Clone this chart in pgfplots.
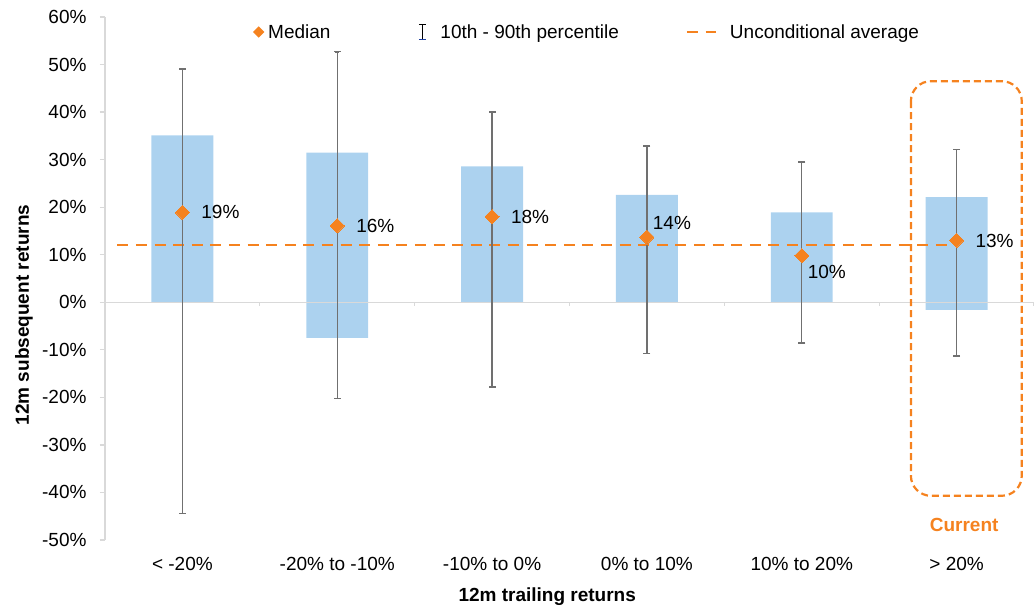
\documentclass[border=0pt]{standalone}
\usepackage{pgfplots}
\pgfplotsset{compat=1.18}
\usepackage{pgfplotstable}
\usepackage{fontspec}
\setmainfont{Liberation Sans}

\definecolor{barblue}{HTML}{ACD2EF}
\definecolor{orangec}{HTML}{F5821F}
\definecolor{whiskergray}{HTML}{707070}
\definecolor{axisgray}{HTML}{D9D9D9}
\definecolor{capblue}{HTML}{1F3F9F}
\newcommand\chartfont{\fontsize{19bp}{23bp}\selectfont}

% boxes: base (below zero) and top of each bucket
\pgfplotstableread{
x base top
0 0 35.1
1 -7.5 31.5
2 0 28.6
3 0 22.6
4 0 18.9
5 -1.6 22.1
}\bars

% median, 10th and 90th percentile of subsequent returns
\pgfplotstableread{
x med p10 p90
0 18.9 -44.4 49.1
1 16.1 -20.2 52.7
2 18.0 -17.8 40.0
3 13.7 -10.8 32.9
4 9.8 -8.6 29.5
5 13.0 -11.3 32.1
}\stats

\pgfplotsset{
  medianmark/.style={orangec, only marks, mark=square*, mark size=5bp,
    mark options={rotate=45, fill=orangec, draw=orangec, line width=0pt},
    point meta=explicit,
    nodes near coords={\pgfmathprintnumber[fixed,precision=0]{\pgfplotspointmeta}\%},
    nodes near coords style={font=\chartfont, text=black, anchor=west, inner sep=0pt}},
  capmark/.style={whiskergray, only marks, mark=-, mark size=3.5bp,
    mark options={line width=1.4bp}, forget plot},
}

\begin{document}
\begin{tikzpicture}
\useasboundingbox (-105bp,-66bp) rectangle (929bp,540bp);
\begin{axis}[
  at={(0,0)}, anchor=south west,
  scale only axis, width=929bp, height=523bp,
  xmin=-0.5, xmax=5.5, ymin=-50, ymax=60,
  /pgf/number format/assume math mode=true,
  axis lines*=left,
  x axis line style={draw=none},
  y axis line style={draw=axisgray, line width=1.2bp},
  xtick=data,
  xticklabels={{< -20\%},{-20\% to -10\%},{-10\% to 0\%},{0\% to 10\%},{10\% to 20\%},{> 20\%}},
  x tick style={draw=none},
  ytick={-50,-40,-30,-20,-10,0,10,20,30,40,50,60},
  yticklabels={-50\%,-40\%,-30\%,-20\%,-10\%,0\%,10\%,20\%,30\%,40\%,50\%,60\%},
  y tick style={draw=axisgray, line width=1.2bp},
  tick align=outside,
  major tick length=5bp,
  tick label style={font=\chartfont, text=black},
  xticklabel style={anchor=center, yshift=-19bp},
  yticklabel style={xshift=-10bp},
  xlabel={12m trailing returns},
  ylabel={12m subsequent returns},
  every axis x label/.style={at={(axis description cs:0.476,-0.109)}, anchor=center, font=\bfseries\chartfont},
  every axis y label/.style={at={(axis description cs:-0.0872,0.43)}, anchor=center, rotate=90, font=\bfseries\chartfont},
  legend columns=3,
  reverse legend,
  legend style={draw=none, fill=none, inner sep=0pt, font=\chartfont,
    at={(axis description cs:0.1593,0.9713)}, anchor=west,
    /tikz/column 2/.style={column sep=79bp},
    /tikz/column 4/.style={column sep=60bp}},
  clip=false,
]
% boxes
\addplot[ybar, bar shift=0pt, bar width=0.4, fill=barblue, draw=none, forget plot]
  table[x=x, y=top] {\bars};
\addplot[ybar, bar shift=0pt, bar width=0.4, fill=barblue, draw=none, forget plot]
  table[x=x, y=base] {\bars};

% zero line with category separators
\draw[axisgray, line width=1.2bp] (axis cs:-0.5,0) -- (axis cs:5.5,0);
\pgfplotsinvokeforeach{0.5,1.5,2.5,3.5,4.5,5.5}{
  \draw[axisgray, line width=1.2bp] (axis cs:#1,0) -- ++(0pt,-4bp);
}

% unconditional average
\addplot[orangec, line width=2.3bp, dash pattern=on 11bp off 7.6bp,
  legend image code/.code={\draw[orangec, line width=2.3bp, dash pattern=on 11bp off 7.6bp] (0bp,0bp) -- (29bp,0bp); \path[draw=none] (-6bp,0bp) -- (41bp,0bp);}]
  coordinates {(-0.42,12.05) (4.95,12.05)};
\addlegendentry{Unconditional average}

% 10th - 90th percentile whiskers
\addplot[whiskergray, line width=1.4bp, only marks, mark=none,
  legend image code/.code={
    \draw[black, line width=1.8bp] (0bp,-7.5bp) -- (0bp,7.5bp) (-3.5bp,7.5bp) -- (3.5bp,7.5bp);
    \draw[capblue, line width=1.8bp] (-3.5bp,-7.5bp) -- (3.5bp,-7.5bp);
    \path[draw=none] (-11bp,0bp) -- (16bp,0bp);},
  error bars/.cd, y dir=both, y explicit,
  error bar style={whiskergray, line width=1.4bp},
  ]
  table[x=x, y=med,
    y error plus expr=\thisrow{p90}-\thisrow{med},
    y error minus expr=\thisrow{med}-\thisrow{p10}] {\stats};
\addlegendentry{10th - 90th percentile}
\addplot[capmark] table[x=x, y=p90] {\stats};
\addplot[capmark] table[x=x, y=p10] {\stats};

% medians, labels beside
\addplot[medianmark, nodes near coords style={xshift=19bp},
  legend image code/.code={\fill[orangec] (0bp,5.3bp) -- (5.3bp,0bp) -- (0bp,-5.3bp) -- (-5.3bp,0bp) -- cycle; \path[draw=none] (-5.3bp,0bp) -- (7.5bp,0bp);}]
  table[x=x, y=med, meta=med] {
x med
0 18.9
1 16.1
2 18.0
5 13.0
};
\addlegendentry{Median}
% medians, labels above or below
\addplot[medianmark, nodes near coords style={xshift=6bp, yshift=14bp}, forget plot]
  table[x=x, y=med, meta=med] {
x med
3 13.7
};
\addplot[medianmark, nodes near coords style={xshift=6bp, yshift=-16bp}, forget plot]
  table[x=x, y=med, meta=med] {
x med
4 9.8
};

% highlight of the current bucket
\draw[orangec, line width=2.2bp, dash pattern=on 7bp off 4bp, rounded corners=20bp]
  (axis cs:4.705,46.5) rectangle (axis cs:5.421,-40.7);
\node[text=orangec, font=\bfseries\chartfont] at (axis cs:5.049,-46.9) {Current};
\end{axis}
\end{tikzpicture}
\end{document}
